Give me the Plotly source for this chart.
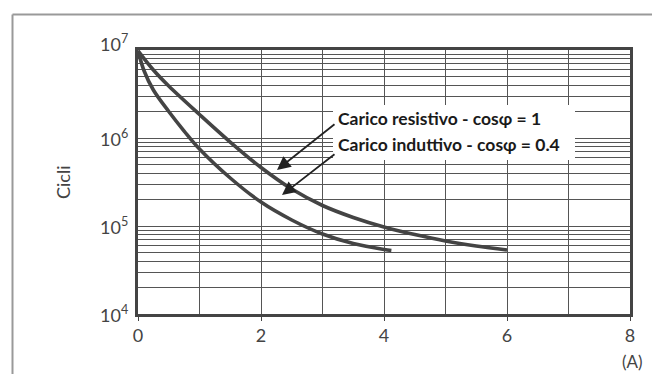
import plotly.graph_objects as go
import math

# --- data ---
res_x = [0, 0.25, 0.5, 1.0, 1.5, 2.0, 2.5, 3.0, 3.5, 4.0, 4.5, 5.0, 5.5, 6.0]
res_y = [9.8e6, 5.93e6, 3.90e6, 1.85e6, 9.0e5, 4.62e5, 2.63e5, 1.71e5, 1.25e5, 9.75e4,
         8.0e4, 6.76e4, 5.93e4, 5.34e4]

ind_x = [0, 0.1, 0.25, 0.5, 0.75, 1.0, 1.5, 2.0, 2.5, 3.0, 3.5, 4.0, 4.12]
ind_y = [9.8e6, 5.77e6, 3.51e6, 2.0e6, 1.20e6, 7.5e5, 3.51e5, 1.87e5, 1.17e5,
         8.11e4, 6.32e4, 5.41e4, 5.27e4]

y_decades = [1e4, 1e5, 1e6, 1e7]
y_labels = ["10<sup>4</sup>", "10<sup>5</sup>", "10<sup>6</sup>", "10<sup>7</sup>"]
x_ticks = [0, 2, 4, 6, 8]
x_labels = ["0", "2", "4", "6", "8"]

label_res = "Carico resistivo - cos\u03c6 = 1"
label_ind = "Carico induttivo - cos\u03c6 = 0.4"
y_title = "Cicli"
x_unit = "(A)"

W, H = 660, 374
L, R, T, B = 130, 38, 42, 68
pw, ph = W - L - R, H - T - B

def px2paper_x(px):
    return (px - L) / pw

def py2paper_y(py):
    return (H - B - py) / ph

line_col = "#444444"
grid_col = "#555555"
tick_font = dict(family="Lato, 'Open Sans', sans-serif", size=18, color="#444444")

fig = go.Figure()
fig.add_trace(go.Scatter(x=res_x, y=res_y, mode="lines", name=label_res,
                         line=dict(color=line_col, width=3.6, shape="spline", smoothing=1.0)))
fig.add_trace(go.Scatter(x=ind_x, y=ind_y, mode="lines", name=label_ind,
                         line=dict(color=line_col, width=3.6, shape="spline", smoothing=1.0)))

annotations = []
# y tick labels
for v, t in zip(y_decades, y_labels):
    annotations.append(dict(xref="paper", yref="y", x=0, y=math.log10(v), text=t,
                            showarrow=False, xanchor="right", yanchor="middle",
                            xshift=-8, yshift=(7 if v == 1e7 else 0), font=tick_font))
# axis titles
annotations.append(dict(xref="paper", yref="paper", x=px2paper_x(55), y=py2paper_y(174),
                        text=y_title, textangle=-90, showarrow=False,
                        xanchor="center", yanchor="middle", font=tick_font))
annotations.append(dict(xref="paper", yref="paper", x=px2paper_x(624), y=py2paper_y(353),
                        text=x_unit, showarrow=False, xanchor="center", yanchor="middle",
                        font=dict(tick_font, size=17)))
# legend-style labels with arrows
lab_font = dict(family="Lato, sans-serif", size=17.5, color="#1a1a1a")
annotations.append(dict(xref="paper", yref="paper", x=px2paper_x(329), y=py2paper_y(110),
                        text="<b>" + label_res + "</b>", showarrow=False, borderpad=0,
                        xanchor="left", yanchor="middle", font=lab_font))
annotations.append(dict(xref="paper", yref="paper", x=px2paper_x(329), y=py2paper_y(136),
                        text="<b>" + label_ind + "</b>", showarrow=False, borderpad=0,
                        xanchor="left", yanchor="middle", font=lab_font))
# arrows
annotations.append(dict(x=(269 - L) / pw * 8, y=7 - (162 - T) / ph * 3, xref="x", yref="y",
                        text="", showarrow=True, ax=59, ay=-47, arrowhead=2, arrowsize=1.5,
                        arrowwidth=1.8, arrowcolor="#222222"))
annotations.append(dict(x=(274 - L) / pw * 8, y=7 - (187 - T) / ph * 3, xref="x", yref="y",
                        text="", showarrow=True, ax=54, ay=-42, arrowhead=2, arrowsize=1.5,
                        arrowwidth=1.8, arrowcolor="#222222"))

shapes = [
    # white box behind labels
    dict(type="rect", xref="paper", yref="paper", layer="above",
         x0=px2paper_x(325), x1=px2paper_x(567), y0=py2paper_y(152), y1=py2paper_y(97),
         fillcolor="white", line=dict(width=0)),
    # outer frame (top and left)
    dict(type="line", xref="paper", yref="paper",
         x0=px2paper_x(4.5), x1=px2paper_x(4.5), y0=py2paper_y(374), y1=py2paper_y(6.5),
         line=dict(color="#999999", width=2)),
    dict(type="line", xref="paper", yref="paper",
         x0=px2paper_x(4.5), x1=px2paper_x(660), y0=py2paper_y(6.5), y1=py2paper_y(6.5),
         line=dict(color="#999999", width=2)),
]

fig.update_layout(
    width=W, height=H,
    margin=dict(l=L, r=R, t=T, b=B),
    paper_bgcolor="white", plot_bgcolor="white",
    showlegend=False,
    annotations=annotations,
    shapes=shapes,
    xaxis=dict(range=[0, 8], tickvals=x_ticks, ticktext=x_labels, automargin=False,
               showgrid=True, gridcolor=grid_col, gridwidth=1,
               minor=dict(dtick=1, showgrid=True, gridcolor=grid_col, gridwidth=1),
               showline=True, linecolor=line_col, linewidth=2.5, mirror=True,
               ticks="outside", ticklen=4, tickcolor=line_col,
               tickfont=tick_font, zeroline=False, ticklabelstandoff=0),
    yaxis=dict(type="log", range=[4, 7], dtick="D1", showticklabels=False, automargin=False,
               showgrid=True, gridcolor=grid_col, gridwidth=1,
               showline=True, linecolor=line_col, linewidth=2.5, mirror=True,
               ticks="", zeroline=False),
)

fig.write_html("out.html")
